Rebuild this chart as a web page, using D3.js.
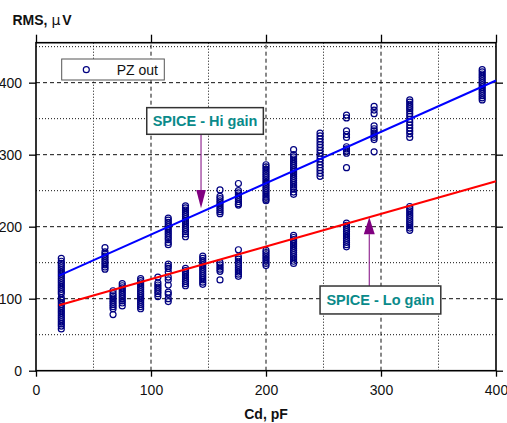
<!DOCTYPE html>
<html>
<head>
<meta charset="utf-8">
<script src="https://cdn.jsdelivr.net/npm/d3@7"></script>
<style>
  body { margin: 0; background: #fff; }
  svg { display: block; }
  text { font-family: "Liberation Sans", Arial, Helvetica, sans-serif; }
</style>
</head>
<body>
<svg id="chart" width="507" height="423"></svg>
<script>
// Detector capacitance (pF) of each measurement group, and measured RMS noise (µV)
const hiCd = [22, 60, 115, 130, 160, 176, 200, 224, 247, 270, 294, 325, 388];
const hiRms = [
  [156,152,149,146,143,140,137,134,131,128,125,122,119,116,113,110,107],
  [171,165,162,159,156,153,150,147,144,141],
  [212,209,206,203,200,197,194,191,188,185,182,178,175],
  [229,226,223,220,217,214,211,208,205,202,199,196,193,190,186],
  [251,242,239,236,233,230,227,224,221,218],
  [260,250,247,244,241,238,235,232,230],
  [286,283,280,277,274,271,268,265,262,259,256,253,250,247,244,241,238,236],
  [307,300,297,294,291,288,285,282,279,276,273,270,267,264,261,258,255,252,248,245],
  [330,326,322,318,314,310,306,302,298,294,290,286,282,278,274,270],
  [355,351,333,328,324,311,308,305,302,282],
  [367,362,357,340,336,333,330,327,324,321,304],
  [376,373,370,367,364,361,357,353,349,345,341,337,333,329,324],
  [418,415,412,409,406,403,400,397,394,391,388,385,382,379,376]
];
const loCd = [22, 67, 75, 91, 106, 115, 130, 145, 160, 176, 200, 224, 270, 325];
const loRms = [
  [101,98,95,92,89,86,83,80,77,74,71,68,65,62,58],
  [111,107,104,101,98,95,92,89,86,78],
  [121,118,115,112,109,106,103,100,97,94,90],
  [128,125,122,119,116,113,110,107,104,101,98,95,92,89,86],
  [130,122,119,116,113,110,107,103],
  [148,145,142,137,130,126,119,109,106,100,96],
  [142,139,136,133,130,127,124,121,118],
  [159,156,153,150,147,144,141,138,135,132,129,126,123,120],
  [150,147,144,141,138,126],
  [168,158,155,152,149,146,143,140,137,134,131],
  [167,164,161,158,155,152,149,146],
  [188,185,182,179,176,173,170,167,164,161,158,155,152,149],
  [205,202,199,196,193,190,187,184,181,178,175,172],
  [228,225,222,219,216,213,210,207,204,201,198,195]
];
// SPICE simulation lines (end points, pF / µV)
const spiceHi = [[20, 132], [400, 403]];
const spiceLo = [[20, 91], [400, 263]];

const xTicks = [0, 100, 200, 300, 400];
const yTicks = [0, 100, 200, 300, 400];
const xMinor = [50, 150, 250, 350];
const yMinor = [50, 150, 250, 350, 450];

const svg = d3.select("#chart");
const x = d3.scaleLinear().domain([0, 400]).range([36, 496]);
const y = d3.scaleLinear().domain([0, 455.5]).range([370.7, 42.7]);
const [x0, x1] = x.range();
const [y0, y1] = y.range();

// grid: dashed major, dotted minor
const grid = svg.append("g");
grid.selectAll(".vmaj").data(xTicks.filter(d => d > 0 && d < 400)).join("line")
  .attr("x1", d => x(d)).attr("x2", d => x(d)).attr("y1", y0).attr("y2", y1)
  .attr("stroke", "#111").attr("stroke-dasharray", "4,3");
grid.selectAll(".hmaj").data(yTicks.filter(d => d > 0)).join("line")
  .attr("y1", d => y(d)).attr("y2", d => y(d)).attr("x1", x0).attr("x2", x1)
  .attr("stroke", "#111").attr("stroke-dasharray", "4,3");
grid.selectAll(".vmin").data(xMinor).join("line")
  .attr("x1", d => x(d)).attr("x2", d => x(d)).attr("y1", y0).attr("y2", y1)
  .attr("stroke", "#111").attr("stroke-dasharray", "1,2");
grid.selectAll(".hmin").data(yMinor).join("line")
  .attr("y1", d => y(d)).attr("y2", d => y(d)).attr("x1", x0).attr("x2", x1)
  .attr("stroke", "#111").attr("stroke-dasharray", "1,2");

// axes with outward ticks on all four sides
const fmt = d3.format("d");
const axLeft = svg.append("g").attr("transform", `translate(${x0},0)`)
  .call(d3.axisLeft(y).tickValues(yTicks).tickSize(7).tickSizeOuter(0).tickFormat(fmt));
const axBottom = svg.append("g").attr("transform", `translate(0,${y0})`)
  .call(d3.axisBottom(x).tickValues(xTicks).tickSize(6).tickSizeOuter(0).tickFormat(fmt));
const axTop = svg.append("g").attr("transform", `translate(0,${y1})`)
  .call(d3.axisTop(x).tickValues(xTicks).tickSize(8).tickSizeOuter(0).tickFormat(""));
const axRight = svg.append("g").attr("transform", `translate(${x1},0)`)
  .call(d3.axisRight(y).tickValues(yTicks).tickSize(7).tickSizeOuter(0).tickFormat(""));
[axLeft, axBottom, axTop, axRight].forEach(g => {
  g.select(".domain").remove();
  g.selectAll(".tick line").attr("stroke", "#000").attr("stroke-width", 1.3);
  g.selectAll("text").attr("font-size", 14).attr("fill", "#111")
    .attr("font-family", "'Liberation Sans', Arial, sans-serif");
});
axLeft.selectAll("text").attr("x", -14);
axBottom.selectAll("text").attr("y", 14);

// plot frame
svg.append("rect").attr("x", x0).attr("y", y1).attr("width", x1 - x0).attr("height", y0 - y1)
  .attr("fill", "none").attr("stroke", "#000").attr("stroke-width", 1.6);

// measured points
const pts = [];
hiCd.forEach((c, i) => hiRms[i].forEach(v => pts.push([c, v])));
loCd.forEach((c, i) => loRms[i].forEach(v => pts.push([c, v])));
svg.append("g").selectAll("circle").data(pts).join("circle")
  .attr("cx", d => x(d[0])).attr("cy", d => y(d[1])).attr("r", 3)
  .attr("fill", "none").attr("stroke", "#000080").attr("stroke-width", 1.2);

// SPICE lines
const line = d3.line().x(d => x(d[0])).y(d => y(d[1]));
svg.append("path").datum(spiceHi).attr("d", line)
  .attr("fill", "none").attr("stroke", "#0000ff").attr("stroke-width", 2);
svg.append("path").datum(spiceLo).attr("d", line)
  .attr("fill", "none").attr("stroke", "#ff0000").attr("stroke-width", 2);

// callout arrows
function arrow(cx, fromY, baseY, tipY, halfW) {
  const g = svg.append("g");
  g.append("line").attr("x1", x(cx)).attr("x2", x(cx)).attr("y1", y(fromY)).attr("y2", y(baseY))
    .attr("stroke", "#8a1a8a").attr("stroke-width", 1.1);
  g.append("path")
    .attr("d", `M${x(cx) - halfW},${y(baseY)}L${x(cx) + halfW},${y(baseY)}L${x(cx)},${y(tipY)}Z`)
    .attr("fill", "#800080");
}
arrow(143.5, 328.3, 251, 225.5, 4.8);
arrow(289.8, 117.6, 189.4, 213, 5.5);

// callout boxes
function callout(xa, xb, ya, yb, label) {
  const g = svg.append("g");
  g.append("rect").attr("x", x(xa)).attr("y", y(ya)).attr("width", x(xb) - x(xa)).attr("height", y(yb) - y(ya))
    .attr("fill", "#fff").attr("stroke", "#333").attr("stroke-width", 1.5);
  g.append("text").attr("x", (x(xa) + x(xb)) / 2).attr("y", (y(ya) + y(yb)) / 2 + 5)
    .attr("text-anchor", "middle").attr("font-size", 14.5).attr("font-weight", "bold")
    .attr("fill", "#0a8a8a").text(label);
}
callout(96.3, 197.7, 365.3, 328.3, "SPICE - Hi gain");
callout(247, 352, 117.6, 78.8, "SPICE - Lo gain");

// legend
const lg = svg.append("g");
lg.append("rect").attr("x", 61.7).attr("y", 59).attr("width", 102.6).attr("height", 21)
  .attr("fill", "#fff").attr("stroke", "#555").attr("stroke-width", 1);
lg.append("circle").attr("cx", 86.3).attr("cy", 69.7).attr("r", 3)
  .attr("fill", "none").attr("stroke", "#000080").attr("stroke-width", 1.2);
lg.append("text").attr("x", 116.7).attr("y", 74.5).attr("font-size", 14).attr("fill", "#111").text("PZ out");

// axis titles
const yt = svg.append("text").attr("x", 12.5).attr("y", 24.5).attr("font-size", 14)
  .attr("font-weight", "bold").attr("fill", "#111");
yt.append("tspan").text("RMS, ");
yt.append("tspan").attr("font-weight", "normal").attr("font-family", "'DejaVu Sans', sans-serif").text("\u03bc");
yt.append("tspan").attr("dx", 2).text("V");
svg.append("text").attr("x", x(200)).attr("y", 419).attr("text-anchor", "middle")
  .attr("font-size", 14).attr("font-weight", "bold").attr("fill", "#111").text("Cd, pF");
</script>
</body>
</html>
